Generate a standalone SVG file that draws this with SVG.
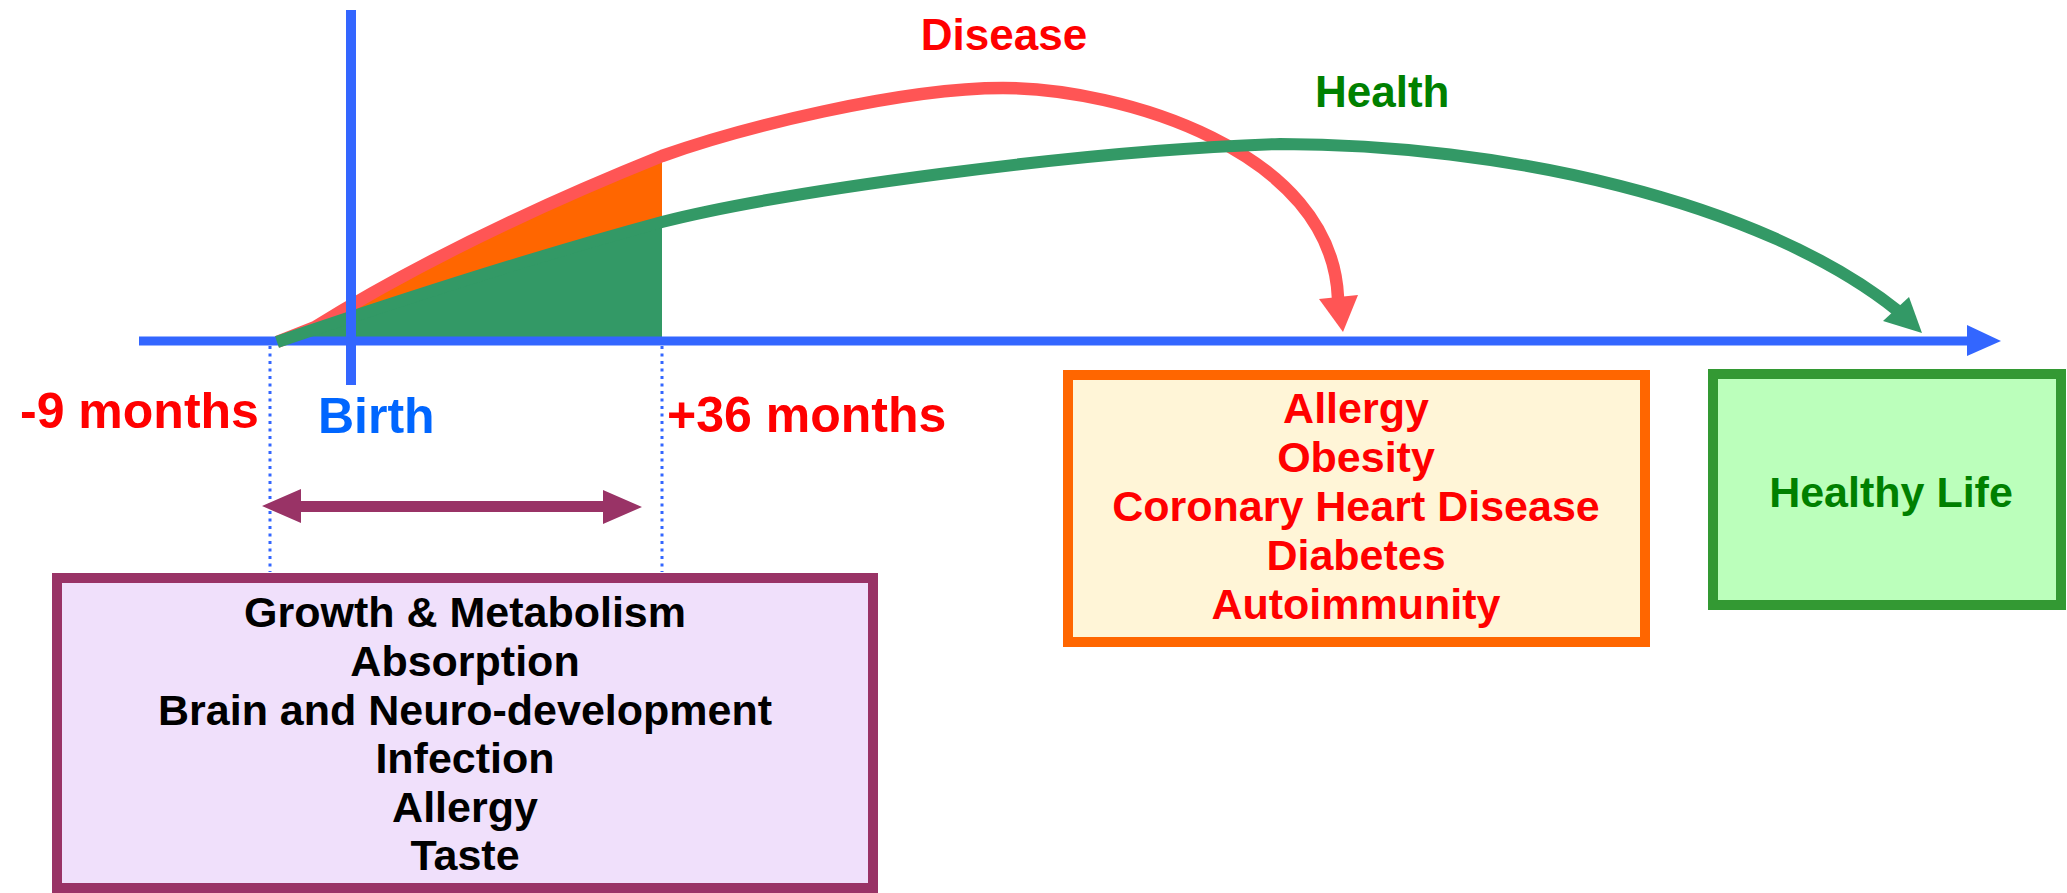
<svg xmlns="http://www.w3.org/2000/svg" width="2067" height="893" viewBox="0 0 2067 893">
<style>
  text { font-family: "Liberation Sans", Arial, sans-serif; font-weight: bold; }
  .lbl { font-size: 50px; }
  .box { font-size: 43px; text-anchor: middle; }
  .red { fill: #FF0000; }
  .dkgreen { fill: #008000; }
  .blk { fill: #000000; }
  .dot { stroke: #3366FF; stroke-width: 3; stroke-dasharray: 3 4.5; fill: none; }
</style>
<rect width="2067" height="893" fill="#FFFFFF"/>

<g id="areas">
  <path d="M277 342 L315 327 C420 262 540 205 662 156 L662 222 C540 255 400 300 277 342 Z" fill="#FF6600"/>
</g>

<g id="connectors" fill="none">
  <!-- disease curve -->
  <path d="M277 342 L315 327 C420 262 540 205 662 156 C740 128 900 88 1003 88 C1120 88 1332 150 1338 298" stroke="#FF5555" stroke-width="12.5"/>
  <polygon points="1319,299 1358,295 1343,332" fill="#FF5555"/>
  <!-- green filled area -->
  <path d="M277 342 C400 300 540 255 662 222 L662 342 Z" fill="#339966"/>
  <line x1="357" y1="318" x2="567" y2="253" stroke="#CC7733" stroke-width="1.5" stroke-dasharray="3 3" opacity="0.6"/>
  <!-- axis -->
  <line x1="139" y1="341" x2="1970" y2="341" stroke="#3366FF" stroke-width="9"/>
  <polygon points="1967,325 2001,341 1967,356" fill="#3366FF"/>
  <!-- health curve -->
  <path d="M277 342 C400 300 540 255 662 222 C780 192 1080 150 1280 144 C1500 144 1760 200 1898 311" stroke="#339966" stroke-width="12"/>
  <polygon points="1883,321 1909,297 1922,333" fill="#339966"/>
  <!-- birth line -->
  <line x1="351" y1="10" x2="351" y2="385" stroke="#3366FF" stroke-width="10"/>
  <!-- dotted guides -->
  <line class="dot" x1="270" y1="346" x2="270" y2="572"/>
  <line class="dot" x1="662" y1="346" x2="662" y2="572"/>
  <!-- double arrow -->
  <path d="M262 506 L301 489 L301 501 L603 501 L603 490 L642 507 L603 524 L603 512 L301 512 L301 523 Z" fill="#993366"/>
</g>

<g id="label-disease"><text x="1004" y="50" class="red" font-size="44" text-anchor="middle">Disease</text></g>
<g id="label-health"><text x="1315" y="107" class="dkgreen" font-size="44">Health</text></g>
<g id="label-minus9"><text x="20" y="428" class="lbl red">-9 months</text></g>
<g id="label-birth"><text x="318" y="433" class="lbl" fill="#0066FF">Birth</text></g>
<g id="label-plus36"><text x="667" y="432" class="lbl red">+36 months</text></g>

<g id="node-early">
  <rect x="57" y="578" width="816" height="310" fill="#F0E0FB" stroke="#993366" stroke-width="10"/>
  <text class="box blk" x="465" y="627">Growth &amp; Metabolism</text>
  <text class="box blk" x="465" y="676">Absorption</text>
  <text class="box blk" x="465" y="725">Brain and Neuro-development</text>
  <text class="box blk" x="465" y="773">Infection</text>
  <text class="box blk" x="465" y="822">Allergy</text>
  <text class="box blk" x="465" y="870">Taste</text>
</g>

<g id="node-disease">
  <rect x="1068" y="375" width="577" height="267" fill="#FFF5D7" stroke="#FF6600" stroke-width="10"/>
  <text class="box red" x="1356" y="423">Allergy</text>
  <text class="box red" x="1356" y="472">Obesity</text>
  <text class="box red" x="1356" y="521">Coronary Heart Disease</text>
  <text class="box red" x="1356" y="570">Diabetes</text>
  <text class="box red" x="1356" y="619">Autoimmunity</text>
</g>

<g id="node-health">
  <rect x="1713" y="374" width="348" height="231" fill="#BBFFBB" stroke="#339933" stroke-width="10"/>
  <text class="box dkgreen" x="1891" y="507">Healthy Life</text>
</g>
</svg>
